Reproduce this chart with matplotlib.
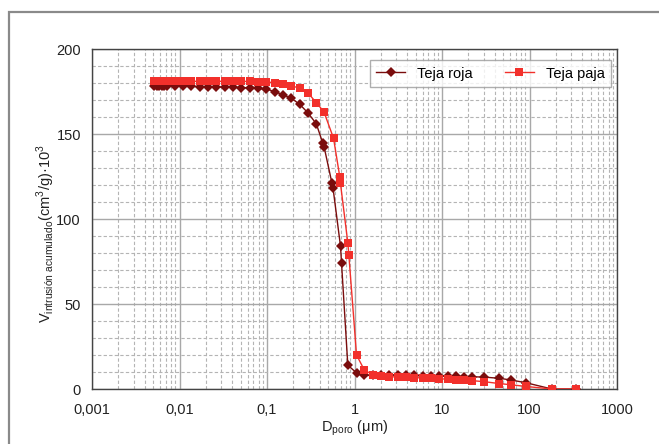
import matplotlib
matplotlib.use("Agg")
import matplotlib.pyplot as plt
from matplotlib.ticker import FixedLocator, FixedFormatter, LogLocator, NullFormatter, MultipleLocator
from matplotlib.patches import Rectangle

plt.rcParams['font.family'] = ['Liberation Sans', 'DejaVu Sans']

# ---- data ----
roja_x = [0.00510, 0.00547, 0.00581, 0.00624, 0.00671, 0.00717, 0.00885, 0.0110, 0.0137,
          0.0171, 0.0212, 0.0264, 0.0329, 0.0409, 0.0510, 0.0635, 0.0789, 0.0984,
          0.122, 0.152, 0.190, 0.236, 0.293, 0.366, 0.435, 0.449, 0.553, 0.569,
          0.692, 0.711, 0.839, 1.055, 1.30, 1.62, 2.01, 2.51, 3.12, 3.89, 4.83,
          6.01, 7.49, 9.31, 11.6, 14.5, 18.0, 22.3, 30.4, 45.1, 61.3, 90.8, 180, 340]
roja_y = [178.2, 178.2, 178.2, 178.2, 178.2, 178.2, 178.1, 178.0, 178.0,
          177.9, 177.8, 177.7, 177.6, 177.5, 177.3, 177.1, 176.8, 176.4,
          175.0, 173.0, 171.0, 167.5, 162.5, 156.0, 144.5, 142.5, 121.0, 118.0,
          84.0, 74.0, 14.0, 9.5, 8.0, 8.0, 8.1, 8.2, 8.2, 8.1, 8.0,
          7.9, 7.8, 7.7, 7.6, 7.5, 7.3, 7.2, 7.0, 6.3, 5.3, 3.7, 0.0, 0.0]

paja_x = [0.00510, 0.00547, 0.00581, 0.00624, 0.00671, 0.00717, 0.00885, 0.0110, 0.0137,
          0.0171, 0.0212, 0.0264, 0.0329, 0.0409, 0.0510, 0.0635, 0.0789, 0.0984,
          0.122, 0.152, 0.190, 0.236, 0.293, 0.366, 0.447, 0.576, 0.679, 0.690,
          0.839, 0.861, 1.055, 1.30, 1.62, 2.01, 2.51, 3.12, 3.89, 4.83,
          6.01, 7.49, 9.31, 11.6, 14.5, 18.0, 22.3, 30.4, 45.1, 61.3, 90.8, 180, 340]
paja_y = [181.0, 181.0, 181.0, 181.0, 181.0, 181.0, 181.0, 181.0, 181.0,
          181.0, 181.0, 181.0, 181.0, 181.0, 181.0, 180.9, 180.8, 180.6,
          180.2, 179.4, 178.4, 176.9, 174.3, 168.4, 163.1, 147.5, 124.8, 121.2,
          86.0, 79.0, 20.0, 11.0, 8.5, 7.5, 7.3, 7.0, 6.9, 6.7,
          6.5, 6.3, 6.0, 5.8, 5.5, 5.3, 4.9, 4.3, 3.2, 2.5, 1.5, 0.0, 0.0]

x_ticks = [0.001, 0.01, 0.1, 1, 10, 100, 1000]
x_ticklabels = ["0,001", "0,01", "0,1", "1", "10", "100", "1000"]
y_ticks = [0, 50, 100, 150, 200]

fig = plt.figure(figsize=(6.59, 4.44), dpi=100)
fig.patches.append(Rectangle((9/659, -0.05), 1.2, 1 - 12/444 + 0.05, transform=fig.transFigure,
                             fill=False, edgecolor='#8a8a8a', linewidth=1.6))
ax = fig.add_axes([92/659, 1 - 389/444, (617-92)/659, (389-49)/444])

ax.plot(roja_x, roja_y, color='#7a0c0c', marker='D', markersize=5.6, markeredgewidth=0,
        linewidth=1.0, label='Teja roja', zorder=3)
ax.plot(paja_x, paja_y, color='#f2302b', marker='s', markersize=5.9, markeredgewidth=0,
        linewidth=1.0, label='Teja paja', zorder=4)

ax.set_xscale('log')
ax.set_xlim(0.001, 1000)
ax.set_ylim(0, 200)
ax.xaxis.set_major_locator(FixedLocator(x_ticks))
ax.xaxis.set_major_formatter(FixedFormatter(x_ticklabels))
ax.xaxis.set_minor_locator(LogLocator(base=10, subs=range(2, 10), numticks=100))
ax.xaxis.set_minor_formatter(NullFormatter())
ax.yaxis.set_major_locator(FixedLocator(y_ticks))
ax.yaxis.set_minor_locator(MultipleLocator(10))

ax.grid(which='major', color='#a8a8a8', linestyle='-', linewidth=1.0, zorder=0)
ax.grid(which='minor', color='#b4b4b4', linestyle=(0, (3, 2)), linewidth=0.8, zorder=0)
ax.set_axisbelow(True)
ax.tick_params(which='both', length=0, labelsize=10.5, colors='#222222')
ax.tick_params(axis='y', pad=8)
ax.tick_params(axis='x', pad=10)
for s in ax.spines.values():
    s.set_color('#444444')
    s.set_linewidth(1.0)

ax.set_xlabel(r"D$_{\mathregular{poro}}$ ($\mathregular{\mu}$m)", fontsize=10.5, labelpad=1, color='#222222')
ax.set_ylabel(r"V$_{\mathregular{intrusión\ acumulado}}$(cm$^{\mathregular{3}}$/g)·10$^{\mathregular{3}}$",
              fontsize=10.5, color='#222222')
ax.yaxis.set_label_coords(-0.066, 0.456)

leg = ax.legend(loc='upper right', ncol=2, fontsize=10.5, frameon=True, fancybox=False,
                edgecolor='#9a9a9a', handlelength=2.0, columnspacing=2.2,
                borderpad=0.45, borderaxespad=0, bbox_to_anchor=(0.9886, 0.9676))
leg.get_frame().set_linewidth(1.0)

fig.savefig("out.png", dpi=100)
